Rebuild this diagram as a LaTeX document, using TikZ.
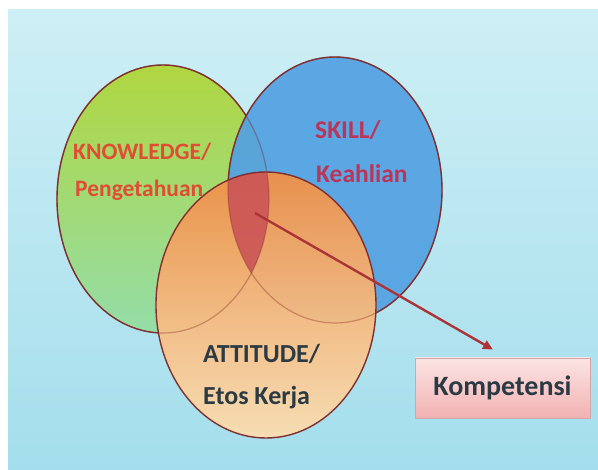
\documentclass[tikz,border=0pt]{standalone}
\usepackage{fontspec}
\setmainfont{Carlito}
\usetikzlibrary{arrows.meta,calc}

\definecolor{bgtop}{RGB}{206,239,245}
\definecolor{bgbot}{RGB}{164,222,236}
\definecolor{greentop}{RGB}{176,214,64}
\definecolor{greenbot}{RGB}{148,221,168}
\definecolor{skillblue}{RGB}{84,162,226}
\definecolor{attop}{RGB}{238,144,72}
\definecolor{atmid}{RGB}{242,160,92}
\definecolor{atbot}{RGB}{250,222,178}
\definecolor{lensred}{RGB}{204,86,86}
\definecolor{rimcol}{RGB}{128,48,48}
\definecolor{arrowcol}{RGB}{172,52,56}
\definecolor{knowred}{RGB}{224,76,52}
\definecolor{skillred}{RGB}{188,52,88}
\definecolor{attink}{RGB}{44,58,68}
\definecolor{boxtop}{RGB}{252,228,228}
\definecolor{boxbot}{RGB}{242,178,178}
\definecolor{boxrim}{RGB}{206,168,168}

\tikzset{
  rim/.style={draw=rimcol, line width=1.4pt},
  faintrim/.style={draw=rimcol, line width=1.2pt, draw opacity=0.35},
  label/.style={inner sep=0pt, anchor=base west, font=\bfseries},
  knowlabel/.style={label, text=knowred, font=\fontsize{23.5}{28}\selectfont\bfseries},
  skilllabel/.style={label, text=skillred, font=\fontsize{25.5}{30}\selectfont\bfseries},
  attlabel/.style={label, text=attink, font=\fontsize{26}{31}\selectfont\bfseries},
  resultbox/.style={draw=boxrim, line width=0.8pt, top color=boxtop, bottom color=boxbot,
    minimum width=175pt, minimum height=60pt, inner sep=0pt, text=attink,
    font=\fontsize{28}{33}\selectfont\bfseries},
  pointer/.style={draw=arrowcol, line width=2.4pt, -{Triangle[length=10pt,width=9pt]}}
}

\begin{document}
\begin{tikzpicture}[x=1pt,y=-1pt]
\useasboundingbox (0,0) rectangle (598,470);
\fill[white] (0,0) rectangle (598,470);
\shade[top color=bgtop, bottom color=bgbot] (8,10) rectangle (598,470);

% Knowledge ellipse
\shade[top color=greentop, bottom color=greenbot]
  (163,199) ellipse [x radius=106pt, y radius=134pt];
\draw[rim] (163,199) ellipse [x radius=106pt, y radius=134pt];

% Skill ellipse
\fill[skillblue, fill opacity=0.93] (335,190) ellipse [x radius=107pt, y radius=133pt];
\draw[rim] (335,190) ellipse [x radius=107pt, y radius=133pt];

% Attitude ellipse
\shade[top color=attop, middle color=atmid, bottom color=atbot, opacity=0.96]
  (266,305) ellipse [x radius=110pt, y radius=133pt];

% Common core of the three sets
\begin{scope}
  \clip (163,199) ellipse [x radius=106pt, y radius=134pt];
  \clip (335,190) ellipse [x radius=107pt, y radius=133pt];
  \fill[lensred, fill opacity=0.92] (266,305) ellipse [x radius=110pt, y radius=133pt];
\end{scope}

% Outlines seen through the top layer
\draw[faintrim] (163,199) ellipse [x radius=106pt, y radius=134pt];
\draw[faintrim] (335,190) ellipse [x radius=107pt, y radius=133pt];
\draw[rim] (266,305) ellipse [x radius=110pt, y radius=133pt];

% Labels
\node[knowlabel] (know1) at (73,160) {KNOWLEDGE/};
\node[knowlabel] (know2) at (75,197) {Pengetahuan};
\node[skilllabel] (skill1) at (315,139) {SKILL/};
\node[skilllabel] (skill2) at (316,183) {Keahlian};
\node[attlabel] (att1) at (203,363) {ATTITUDE/};
\node[attlabel] (att2) at (203,405) {Etos Kerja};

% Result box and pointer
\node[resultbox] (komp) at (502.5,388) {Kompetensi};
\coordinate (core) at (255,213);
\draw[pointer] (core) -- ([shift={(-9.5pt,8pt)}]komp.north);
\end{tikzpicture}
\end{document}
